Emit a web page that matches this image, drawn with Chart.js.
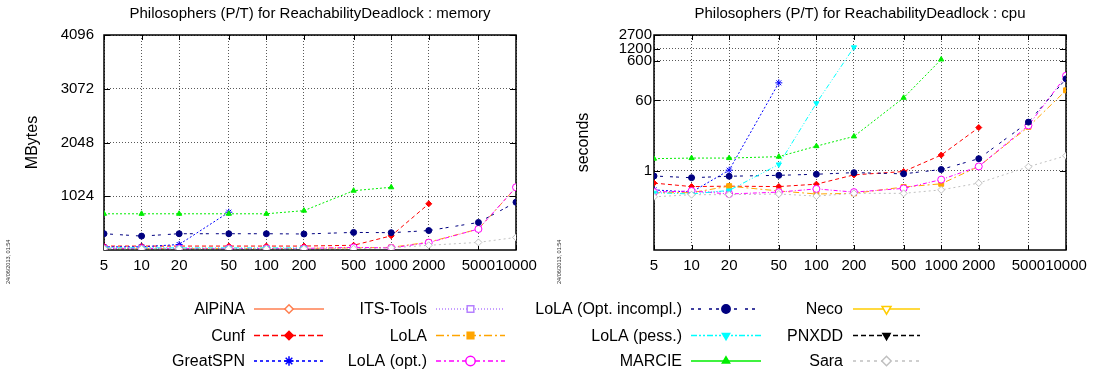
<!DOCTYPE html>
<html>
<head>
<meta charset="utf-8">
<script src="https://cdn.jsdelivr.net/npm/chart.js@4.4.0/dist/chart.umd.min.js"></script>
<style>
body { margin: 0; background: #fff; }
#wrap { position: relative; width: 1094px; height: 374px; overflow: hidden; font-family: "Liberation Sans", Arial, sans-serif; }
.box { position: absolute; top: 0; width: 547px; height: 285px; }
.stamp { position: absolute; font-size: 5.5px; color: #333; transform: rotate(-90deg); transform-origin: left top; white-space: nowrap; }
#legend { position: absolute; left: 0; top: 285px; }
</style>
</head>
<body>
<div id="wrap">
  <div class="box" style="left:0"><canvas id="memChart" width="547" height="285"></canvas></div>
  <div class="box" style="left:547px"><canvas id="cpuChart" width="547" height="285"></canvas></div>
  <div class="stamp" style="left:5px;top:284px">24/06/2013, 01:54</div>
  <div class="stamp" style="left:556px;top:284px">24/06/2013, 01:54</div>
  <canvas id="legend" width="1094" height="89"></canvas>
</div>
<script>
// model sizes (x axis)
const sizes = [5, 10, 20, 50, 100, 200, 500, 1000, 2000, 5000, 10000];
const tools = ['AlPiNA', 'Cunf', 'GreatSPN', 'ITS-Tools', 'LoLA', 'LoLA (opt.)',
    'LoLA (Opt. incompl.)', 'LoLA (pess.)', 'MARCIE', 'Neco', 'PNXDD', 'Sara'];

// memory (MBytes)
const memAlpina = [];
const memCunf = [75, 75, 75, 75, 75, 75, 90, 270, 880];
const memGreatSPN = [60, 60, 105, 720];
const memITS = [35, 35, 35];
const memLoLA = [30, 30, 30, 30, 30, 30, 40, 50, 150, 400, 1190];
const memLoLAopt = [30, 30, 30, 30, 30, 30, 50, 40, 140, 400, 1195];
const memIncompl = [310, 265, 310, 310, 310, 305, 335, 330, 370, 525, 910];
const memPess = [40, 40, 40, 40, 40, 40];
const memMarcie = [690, 690, 690, 690, 690, 750, 1130, 1195];
const memNeco = [];
const memPnxdd = [];
const memSara = [25, 25, 25, 25, 25, 25, 25, 40, 90, 145, 240];

// cpu (seconds)
const cpuAlpina = [];
const cpuCunf = [0.49, 0.40, 0.41, 0.40, 0.46, 0.79, 0.96, 2.5, 12.4];
const cpuGreatSPN = [0.33, 0.29, 1.04, 167];
const cpuITS = [0.30, 0.29, 0.30];
const cpuLoLA = [0.28, 0.28, 0.41, 0.31, 0.26, 0.27, 0.39, 0.47, 1.29, 12.9, 108];
const cpuLoLAopt = [0.29, 0.31, 0.26, 0.29, 0.35, 0.29, 0.36, 0.6, 1.29, 14, 252];
const cpuIncompl = [0.74, 0.67, 0.73, 0.77, 0.82, 0.9, 0.84, 1.08, 2.03, 17, 211];
const cpuPess = [0.28, 0.26, 0.32, 1.45, 51, 1320];
const cpuMarcie = [2.03, 2.1, 2.1, 2.28, 4.2, 7.4, 70, 650];
const cpuNeco = [];
const cpuPnxdd = [];
const cpuSara = [0.22, 0.25, 0.25, 0.26, 0.23, 0.27, 0.27, 0.33, 0.49, 1.27, 2.4];

const memTicks = [1024, 2048, 3072, 4096];
const cpuTicks = [1, 60, 600, 1200, 2700];

const memSeries = [memAlpina, memCunf, memGreatSPN, memITS, memLoLA, memLoLAopt,
    memIncompl, memPess, memMarcie, memNeco, memPnxdd, memSara];
const cpuSeries = [cpuAlpina, cpuCunf, cpuGreatSPN, cpuITS, cpuLoLA, cpuLoLAopt,
    cpuIncompl, cpuPess, cpuMarcie, cpuNeco, cpuPnxdd, cpuSara];

// gnuplot-ish styles
const styles = [
    { color: '#ff7f50', point: 'rectRot', filled: false, r: 3, dash: [], legDash: [] },
    { color: '#ff0000', point: 'rectRot', filled: true, r: 3, dash: [4, 3], legDash: [6, 3] },
    { color: '#0000ff', point: 'star', filled: false, r: 3.5, dash: [2, 2], legDash: [3, 3] },
    { color: '#b580ff', point: 'rect', filled: false, r: 3.5, dash: [1, 2], legDash: [1, 2] },
    { color: '#ffa500', point: 'rect', filled: true, r: 3.5, dash: [6, 3, 2, 3], legDash: [8, 3, 2, 3] },
    { color: '#ff00ff', point: 'circle', filled: false, r: 3.5, dash: [4, 2, 1, 2], legDash: [5, 3, 2, 3] },
    { color: '#000080', point: 'circle', filled: true, r: 3, dash: [3, 3, 3, 7], legDash: [3, 4, 3, 8] },
    { color: '#00ffff', point: 'triangle', rot: 180, filled: true, r: 3, dash: [5, 2, 1, 2, 1, 2], legDash: [6, 2, 2, 2, 2, 2] },
    { color: '#00ee00', point: 'triangle', filled: true, r: 3, dash: [2, 2], legDash: [] },
    { color: '#ffcc00', point: 'triangle', rot: 180, filled: false, r: 4, dash: [], legDash: [] },
    { color: '#000000', point: 'triangle', rot: 180, filled: true, r: 3, dash: [4, 2], legDash: [5, 3] },
    { color: '#c0c0c0', point: 'rectRot', filled: false, r: 3.5, dash: [2, 3], legDash: [3, 4] }
];

const FONT = '"Liberation Sans", Arial, sans-serif';
Chart.defaults.font.family = FONT;
Chart.defaults.color = '#000';

function buildSets(series) {
    return tools.map((name, i) => {
        const s = styles[i];
        return {
            label: name,
            data: sizes.map((n, k) => ({ x: n, y: series[i][k] ?? null })),
            borderColor: s.color,
            backgroundColor: s.filled ? s.color : '#ffffff',
            borderWidth: 1,
            borderDash: s.dash,
            pointStyle: s.point,
            pointRotation: s.rot || 0,
            pointRadius: s.r,
            pointBorderWidth: 1,
            tension: 0,
            order: tools.length - i
        };
    });
}

// frame + inward tick marks, like gnuplot's border
const framePlugin = {
    id: 'frame',
    beforeDatasetsDraw(chart) {
        const { ctx, chartArea: a, scales } = chart;
        ctx.save();
        ctx.strokeStyle = '#000';
        ctx.lineWidth = 1;
        ctx.beginPath();
        scales.x.ticks.forEach(t => {
            const px = Math.round(scales.x.getPixelForValue(t.value)) + 0.5;
            ctx.moveTo(px, a.bottom); ctx.lineTo(px, a.bottom - 5);
            ctx.moveTo(px, a.top); ctx.lineTo(px, a.top + 5);
        });
        scales.y.ticks.forEach(t => {
            const py = Math.round(scales.y.getPixelForValue(t.value)) + 0.5;
            ctx.moveTo(a.left, py); ctx.lineTo(a.left + 6, py);
            ctx.moveTo(a.right, py); ctx.lineTo(a.right - 6, py);
        });
        ctx.stroke();
        ctx.lineWidth = 1.5;
        ctx.strokeRect(a.left, a.top, a.right - a.left, a.bottom - a.top);
        ctx.restore();
    }
};

const gridColor = 'rgba(0,0,0,0.65)';

function makeChart(id, title, yTitle, series, yCfg) {
    return new Chart(document.getElementById(id), {
        type: 'line',
        data: { datasets: buildSets(series) },
        plugins: [framePlugin],
        options: {
            responsive: false,
            animation: false,
            layout: { padding: { left: 0, right: yCfg.padRight, top: 0, bottom: 0 } },
            plugins: {
                legend: { display: false },
                tooltip: { enabled: false },
                title: {
                    display: true, text: title, fullSize: false,
                    font: { size: 15, weight: 'normal' }, color: '#000',
                    padding: { top: 5, bottom: 12 }
                }
            },
            scales: {
                x: {
                    type: 'logarithmic', min: 5, max: 10000, bounds: 'data',
                    afterBuildTicks: s => { s.ticks = sizes.map(v => ({ value: v })); },
                    afterFit: s => { s.height = 35; },
                    ticks: { autoSkip: false, maxRotation: 0, padding: 7, font: { size: 15 }, callback: v => String(v) },
                    grid: { color: gridColor, drawTicks: false, lineWidth: 1 },
                    border: { display: false, dash: [1, 2] }
                },
                y: {
                    type: yCfg.type, min: yCfg.min, max: yCfg.max, bounds: 'data',
                    afterBuildTicks: s => { s.ticks = yCfg.ticks.map(v => ({ value: v })); },
                    afterFit: s => { s.width = yCfg.width; },
                    ticks: { autoSkip: false, padding: yCfg.labelPad, font: { size: 15 }, callback: v => String(v) },
                    grid: { color: gridColor, drawTicks: false, lineWidth: 1 },
                    border: { display: false, dash: [1, 2] },
                    title: { display: true, text: yTitle, font: { size: 16 }, padding: { top: yCfg.titlePad, bottom: 0 } }
                }
            }
        }
    });
}

makeChart('memChart', 'Philosophers (P/T) for ReachabilityDeadlock : memory', 'MBytes', memSeries,
    { type: 'linear', min: 0, max: 4096, ticks: memTicks, width: 104, padRight: 31, labelPad: 10, titlePad: 23 });
makeChart('cpuChart', 'Philosophers (P/T) for ReachabilityDeadlock : cpu', 'seconds', cpuSeries,
    { type: 'logarithmic', min: 0.01, max: 2700, ticks: cpuTicks, width: 107, padRight: 28, labelPad: 2, titlePad: 27 });

// legend, gnuplot layout: text right-aligned, then line sample with marker
const lg = document.getElementById('legend').getContext('2d');
const textRight = [245, 427, 682, 843];
const sampleFrom = [254, 436, 691, 853];
const sampleTo = [324, 505, 761, 920];
const rowY = [24, 50.5, 76];
lg.font = '16px ' + FONT;
lg.textAlign = 'right';
lg.textBaseline = 'middle';
tools.forEach((name, i) => {
    const col = Math.floor(i / 3), row = i % 3, s = styles[i];
    const y = rowY[row];
    lg.fillStyle = '#000';
    lg.fillText(name, textRight[col], y + 1);
    lg.save();
    lg.strokeStyle = s.color;
    lg.lineWidth = 1.6;
    lg.setLineDash(s.legDash);
    lg.beginPath();
    lg.moveTo(sampleFrom[col], y);
    lg.lineTo(sampleTo[col], y);
    lg.stroke();
    lg.setLineDash([]);
    lg.fillStyle = s.filled ? s.color : '#ffffff';
    lg.lineWidth = 1.5;
    Chart.helpers.drawPoint(lg, { pointStyle: s.point, rotation: s.rot || 0, radius: s.r + 1.2, borderWidth: 1.5 },
        (sampleFrom[col] + sampleTo[col]) / 2, y);
    lg.restore();
});
</script>
</body>
</html>
